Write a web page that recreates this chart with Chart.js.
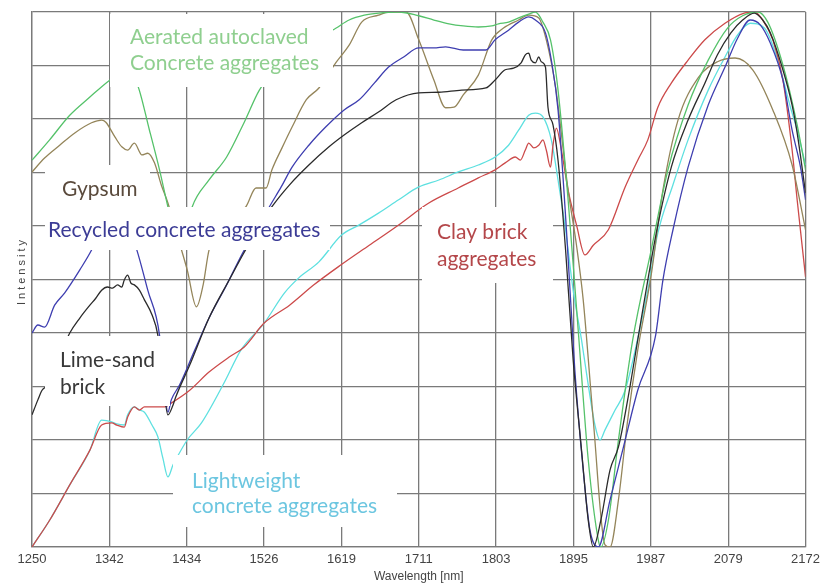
<!DOCTYPE html>
<html>
<head>
<meta charset="utf-8">
<title>NIR spectra of construction materials</title>
<script src="https://cdn.jsdelivr.net/npm/chart.js@4.4.0/dist/chart.umd.min.js"></script>
<style>
  html, body { margin: 0; padding: 0; background: #fff; }
  canvas { display: block; }
</style>
</head>
<body>
<canvas id="spectraChart" width="825" height="586"></canvas>
<script>
// x axis ticks (nm) and the labels printed under them
const tickValues = [1250, 1342.2, 1434.4, 1526.6, 1618.8, 1711, 1803.2, 1895.4, 1987.6, 2079.8, 2172];
const tickLabels = ['1250', '1342', '1434', '1526', '1619', '1711', '1803', '1895', '1987', '2079', '2172'];

// spectra: wavelength (nm) and relative intensity (0-100)
const aeratedNm = [1250,1271,1295,1319,1343,1358,1375,1390,1402,1412,1421,1427,1434,1441,1461,1482,1503,1521,1545,1568,1592,1608,1628,1646,1663,1687,1711,1729,1747,1764,1782,1798,1806,1818,1830,1842,1850,1859,1868,1877,1889,1901,1913,1925,1928,1937,1949,1966,1988,2008,2032,2056,2079,2097,2115,2127,2145,2162,2172];
const aeratedI = [72.3,76.1,80.7,84.1,87.3,88.8,86.7,77.9,70.5,63.6,58.3,57.4,59.3,63.6,68.6,72.9,79.4,85.4,90.1,93.8,95.7,96.6,98.5,99.4,99.8,100,99.3,98.5,97.8,97.4,97.2,97.4,97.8,98.1,98.9,99.6,100,98.1,94.8,85.4,64.9,40.6,16.3,1.3,0,5,20,38.7,55.5,70.5,82.6,91,97,99.3,100,98.1,90.1,78.9,70.5];

const gypsumNm = [1250,1265,1283,1301,1321,1333,1338,1349,1357,1364,1372,1381,1388,1396,1404,1412,1423,1435,1446,1454,1461,1479,1497,1505,1517,1529,1536,1548,1560,1577,1592,1612,1628,1643,1663,1675,1696,1711,1729,1743,1753,1764,1782,1798,1812,1830,1842,1854,1863,1874,1889,1899,1907,1919,1933,1939,1949,1960,1972,1988,2002,2020,2044,2067,2088,2109,2133,2156,2172];
const gypsumI = [70.1,72.7,75.1,77.4,79.3,79.8,79.4,76.6,74.8,74.2,75.5,73.3,73.6,71.8,67.7,64.3,58.3,51.8,44.9,49,55.5,60.2,62.6,63.6,67.1,67.1,70.5,74.6,78.5,83.6,85.8,90.5,93.8,98.1,99.4,100,100,94.8,87.3,82.1,82.2,84.5,88.2,94.8,97,98.5,99.4,98.9,94.8,86,66.7,56.4,46.2,23.7,0.4,0,8.8,23.7,36.8,50.8,66.7,79.8,87.7,90.7,91.4,89.2,81.7,71.4,59.3];

const recycledNm = [1250,1257,1265,1277,1289,1307,1321,1331,1343,1355,1364,1375,1388,1402,1408,1412,1416,1426,1444,1461,1482,1503,1519,1533,1547,1560,1580,1600,1622,1640,1658,1675,1693,1711,1729,1743,1764,1791,1802,1818,1830,1842,1850,1862,1869,1877,1887,1897,1907,1915,1925,1939,1955,1972,1993,2002,2014,2032,2056,2076,2091,2106,2118,2130,2145,2156,2166,2172];
const recycledI = [40,41.5,41.1,45.2,47.5,51.8,55.5,58.9,61.5,62.1,60.2,55.5,48,39.6,29.3,25.2,27.5,30.3,36.8,42.8,49,55.5,59.6,63.6,67.3,71,75.1,78.5,81.7,83.6,86.7,89.7,91.6,93.3,93.3,93.5,92.9,92.9,94.8,96.6,98.1,99.1,98.5,96.1,91,81.7,59.3,33.1,14.4,3.2,0,8.8,18.7,29.3,39.3,49.9,59.3,71,82.6,89.7,95.1,98.5,97.6,94.2,87.3,77.9,71,64.9];

const limeNm = [1250,1257,1262,1269,1277,1286,1295,1307,1319,1326,1333,1340,1346,1352,1357,1360,1364,1368,1372,1378,1384,1393,1400,1406,1412,1418,1421,1438,1461,1485,1503,1519,1536,1557,1580,1604,1622,1643,1663,1684,1711,1735,1762,1791,1802,1814,1824,1833,1838,1842,1845,1850,1854,1857,1862,1865,1871,1877,1886,1895,1905,1913,1919,1928,1939,1949,1960,1972,1984,1996,2012,2032,2052,2067,2083,2097,2111,2121,2130,2145,2156,2162,2172];
const limeI = [24.7,27.5,29.3,30.3,33.1,36.8,40,42.8,45.2,46.5,48,48.6,48.4,49,48.6,49.9,50.8,49.3,49,48,46.2,43.4,39.6,31.2,24.7,26.5,27.9,34,42.8,49.9,55.1,59.3,63.6,67.7,71.4,74.8,77,79.3,81.3,83.6,84.9,85,85.4,85.8,87.3,89.2,89.5,90.5,92,92.3,91,90.5,91.6,90.7,89.7,82.2,78.9,72.3,55.5,35,18.1,5,0,5,14.4,18.7,27.5,38.7,49.9,60.2,71,79.8,86.7,92,96.1,98.5,99.8,98.5,96.1,89.2,82.6,77.4,66.2];

const clayNm = [1250,1271,1295,1319,1333,1345,1351,1360,1364,1372,1378,1384,1408,1416,1438,1461,1485,1503,1527,1557,1586,1618,1652,1687,1723,1758,1782,1802,1814,1826,1832,1838,1842,1848,1854,1859,1863,1868,1871,1875,1881,1889,1899,1909,1919,1937,1957,1972,1984,1996,2012,2032,2052,2076,2099,2111,2121,2133,2145,2156,2162,2172];
const clayI = [0,5,11.6,18.1,22.8,23.2,22.8,22.4,24.3,26.2,25.6,26.2,26.2,26.9,29.3,32.7,35.5,37.4,41.9,45.2,49,52.7,56.4,60.2,64.3,67.1,69,70.5,71.8,72.9,72.3,74.2,75.5,74.6,75.1,76.1,74.2,71,75.1,78.3,74.2,66.7,60.2,54.6,56.4,59.3,67.3,72.3,76.1,82.2,86.7,91,94.8,97.9,99.8,100,98.5,94.8,87.3,74.2,64.9,50.5];

const lightNm = [1250,1271,1295,1319,1333,1345,1351,1360,1364,1372,1378,1384,1393,1400,1406,1412,1418,1423,1435,1452,1479,1499,1527,1551,1568,1592,1619,1640,1663,1687,1711,1735,1758,1782,1802,1818,1830,1842,1850,1859,1869,1877,1886,1895,1905,1913,1921,1927,1933,1945,1957,1976,1984,1996,2014,2032,2056,2076,2091,2106,2123,2139,2154,2162,2172];
const lightI = [0,5,11.6,18.1,23.7,23.4,23,22.8,24.7,26.2,25.6,25.2,22.8,20.6,16.6,13.1,15.3,16.8,20,23.2,30.7,36.8,41.9,47.5,50.3,53.3,58.3,60.2,62.4,64.9,67.3,68.6,70.1,71.4,72.9,75.1,77.9,80.7,81.1,80.4,76.1,68.6,59.3,48,38.7,30.3,22.8,20,21.9,25.6,29.3,41.9,48,58.7,67.7,76.1,85.4,91.6,95.7,97.9,97,91,82.2,77.9,71.4];

const gridColor = '#7a7a7a';

function toPoints(nm, values) {
    return nm.map((x, i) => ({ x: x, y: values[i] }));
}

function spectrum(label, nm, values, color) {
    return {
        label: label,
        data: toPoints(nm, values),
        borderColor: color,
        borderWidth: 1.3,
        pointRadius: 0,
        fill: false,
        cubicInterpolationMode: 'monotone'
    };
}

// white label boxes sitting over the curves, as in the original figure
const labelPlugin = {
    id: 'curveLabels',
    afterDatasetsDraw(chart) {
        const ctx = chart.ctx;
        const notes = [
            { box: [110, 14, 223, 73], lines: ['Aerated autoclaved', 'Concrete aggregates'], x: 130, y: 37, step: 26, color: '#8fcf8f' },
            { box: [45, 165, 105, 42], lines: ['Gypsum'], x: 62, y: 189, step: 0, color: '#5a4a3c' },
            { box: [45, 207, 285, 43], lines: ['Recycled concrete aggregates'], x: 48, y: 230, step: 0, color: '#3c3c96' },
            { box: [45, 336, 125, 70], lines: ['Lime-sand', 'brick'], x: 60, y: 360, step: 27, color: '#383838' },
            { box: [173, 455, 224, 72], lines: ['Lightweight', 'concrete aggregates'], x: 192, y: 481, step: 25, color: '#6cc6e0' },
            { box: [422, 207, 131, 76], lines: ['Clay brick', 'aggregates'], x: 437, y: 232, step: 27, color: '#b4474a' }
        ];
        ctx.save();
        notes.forEach(n => {
            ctx.fillStyle = '#ffffff';
            ctx.fillRect(n.box[0], n.box[1], n.box[2], n.box[3]);
        });
        ctx.font = '21px Lato, "Open Sans", sans-serif';
        ctx.textBaseline = 'middle';
        ctx.textAlign = 'left';
        notes.forEach(n => {
            ctx.fillStyle = n.color;
            n.lines.forEach((t, i) => ctx.fillText(t, n.x, n.y + i * n.step));
        });
        ctx.restore();
    },
    afterDraw(chart) {
        // spaced-out vertical axis title
        const ctx = chart.ctx;
        ctx.save();
        ctx.translate(22, 271);
        ctx.rotate(-Math.PI / 2);
        ctx.font = '11px "Liberation Sans", Arial, sans-serif';
        ctx.fillStyle = '#444';
        ctx.textAlign = 'center';
        ctx.textBaseline = 'middle';
        if ('letterSpacing' in ctx) ctx.letterSpacing = '3px';
        ctx.fillText('Intensity', 0, 0);
        ctx.restore();
    }
};

const ctx = document.getElementById('spectraChart').getContext('2d');

new Chart(ctx, {
    type: 'line',
    data: {
        datasets: [
            spectrum('Lime-sand brick', limeNm, limeI, '#2b2b2b'),
            spectrum('Recycled concrete aggregates', recycledNm, recycledI, '#3e3eb0'),
            spectrum('Aerated autoclaved concrete aggregates', aeratedNm, aeratedI, '#55c26a'),
            spectrum('Gypsum', gypsumNm, gypsumI, '#94855a'),
            spectrum('Clay brick aggregates', clayNm, clayI, '#cc4a4a'),
            spectrum('Lightweight concrete aggregates', lightNm, lightI, '#5ee0e0')
        ]
    },
    options: {
        responsive: false,
        animation: false,
        devicePixelRatio: 1,
        layout: { padding: { top: 12, right: 17, left: 0, bottom: 0 } },
        plugins: {
            legend: { display: false },
            tooltip: { enabled: false }
        },
        scales: {
            x: {
                type: 'linear',
                min: 1250,
                max: 2172,
                afterBuildTicks: scale => { scale.ticks = tickValues.map(v => ({ value: v })); },
                afterFit: scale => { scale.height = 39; },
                ticks: {
                    autoSkip: false,
                    maxRotation: 0,
                    padding: 5,
                    color: '#444',
                    font: { family: '"Liberation Sans Narrow", "Liberation Sans", Arial, sans-serif', size: 13 },
                    callback: (value, index) => tickLabels[index]
                },
                grid: { color: gridColor, lineWidth: 1.3, drawTicks: false },
                border: { color: gridColor, width: 1.3 },
                title: {
                    display: true,
                    text: 'Wavelength [nm]',
                    color: '#444',
                    font: { family: '"Liberation Sans", Arial, sans-serif', size: 12 },
                    padding: { top: 0, bottom: 2 }
                }
            },
            y: {
                min: 0,
                max: 100,
                afterFit: scale => { scale.width = 32; },
                ticks: { display: false, stepSize: 10 },
                grid: { color: gridColor, lineWidth: 1.3, drawTicks: false },
                border: { color: gridColor, width: 1.3 }
            }
        }
    },
    plugins: [labelPlugin]
});
</script>
</body>
</html>
